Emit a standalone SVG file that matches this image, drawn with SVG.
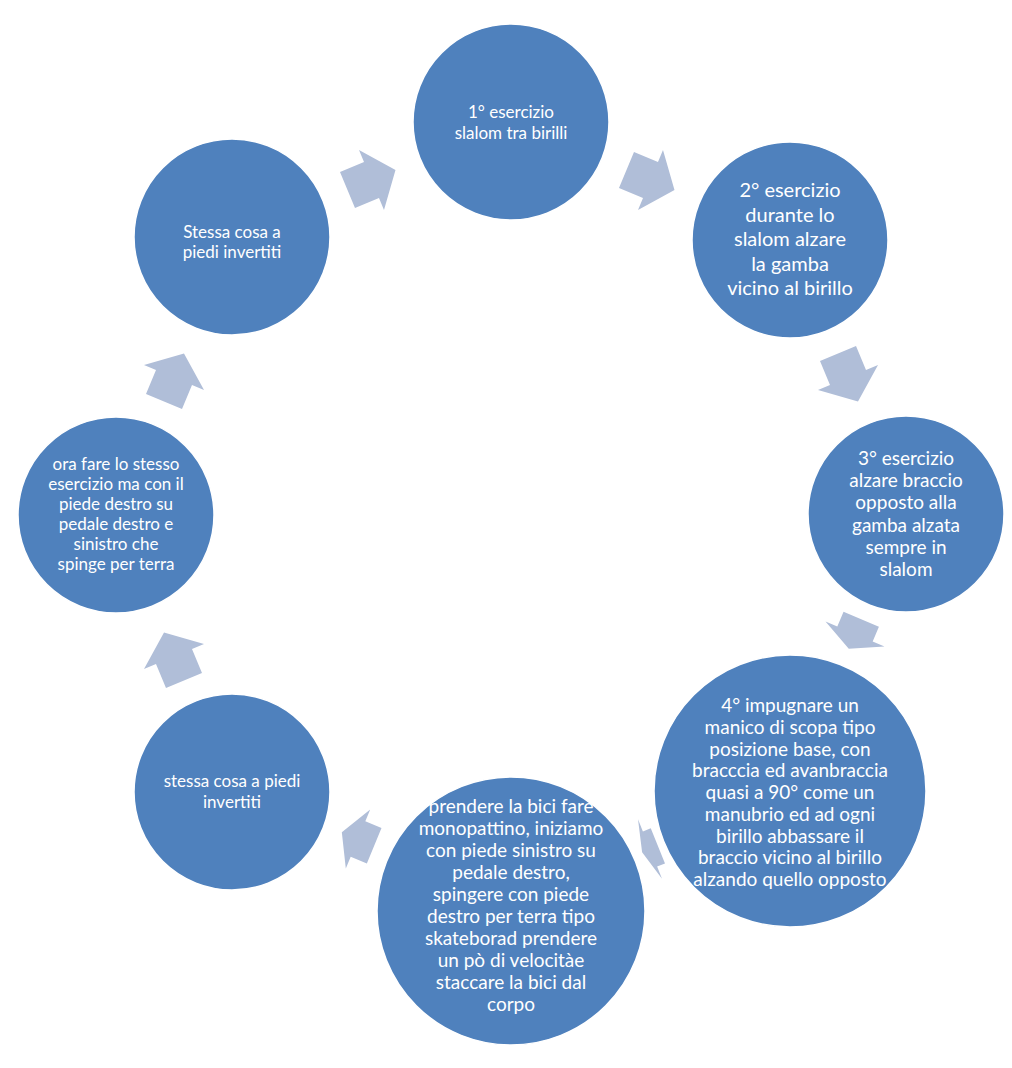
<svg xmlns="http://www.w3.org/2000/svg" width="1012" height="1068" viewBox="0 0 1012 1068">
<style>
.node{fill:#4F81BD;stroke:#ffffff;stroke-width:1.5}
.arrow{fill:#B0BED8}
text{font-family:Lato,"Liberation Sans",sans-serif;fill:#ffffff;text-anchor:middle}
.s{font-size:17px}
.b{font-size:19px}
.c{font-size:20px}
</style>
<defs>
<path id="arr" d="M-26,-19.5 L0,-19.5 L0,-32.5 L26,0 L0,32.5 L0,19.5 L-26,19.5 Z"/>
</defs>
<rect width="1012" height="1068" fill="#ffffff"/>
<g id="connectors">
<use href="#arr" class="arrow" transform="translate(650.5,180) rotate(22.6)"/>
<use href="#arr" class="arrow" transform="translate(848,377.5) rotate(67.4)"/>
<path class="arrow" transform="translate(855,634) rotate(112.9)" d="M-16,-19.2 L0,-19.2 L0,-32 L16,0 L0,32 L0,19.2 L-16,19.2 Z"/>
<path class="arrow" transform="translate(650,849) rotate(158)" d="M-8.5,-19 L0,-19 L0,-32 L8.5,0 L0,32 L0,19 L-8.5,19 Z"/>
<path class="arrow" transform="translate(358,839) rotate(202.4)" d="M-17.5,-19.2 L0,-19.2 L0,-32 L17.5,0 L0,32 L0,19.2 L-17.5,19.2 Z"/>
<use href="#arr" class="arrow" transform="translate(174,656.5) rotate(247.4)"/>
<use href="#arr" class="arrow" transform="translate(174,377.5) rotate(292.6)"/>
<use href="#arr" class="arrow" transform="translate(371.5,180) rotate(337.4)"/>
</g>
<g id="n1">
<circle class="node" cx="511" cy="122" r="98"/>
<text class="s"><tspan x="511" y="118">1° esercizio</tspan><tspan x="511" y="139">slalom tra birilli</tspan></text>
</g>
<g id="n2">
<circle class="node" cx="790" cy="240" r="98"/>
<text class="c"><tspan x="790" y="197">2° esercizio</tspan><tspan x="790" y="221.5">durante lo</tspan><tspan x="790" y="246">slalom alzare</tspan><tspan x="790" y="270.5">la gamba</tspan><tspan x="790" y="295">vicino al birillo</tspan></text>
</g>
<g id="n3">
<circle class="node" cx="906" cy="514" r="98"/>
<text class="b"><tspan x="906" y="465">3° esercizio</tspan><tspan x="906" y="487">alzare braccio</tspan><tspan x="906" y="509">opposto alla</tspan><tspan x="906" y="532">gamba alzata</tspan><tspan x="906" y="554">sempre in</tspan><tspan x="906" y="576">slalom</tspan></text>
</g>
<g id="n4">
<circle class="node" cx="790" cy="791" r="136"/>
<text class="b"><tspan x="790" y="712">4° impugnare un</tspan><tspan x="790" y="734">manico di scopa tipo</tspan><tspan x="790" y="756">posizione base, con</tspan><tspan x="790" y="777">bracccia ed avanbraccia</tspan><tspan x="790" y="799">quasi a 90° come un</tspan><tspan x="790" y="821">manubrio ed ad ogni</tspan><tspan x="790" y="843">birillo abbassare il</tspan><tspan x="790" y="864">braccio vicino al birillo</tspan><tspan x="790" y="886">alzando quello opposto</tspan></text>
</g>
<g id="n5">
<circle class="node" cx="511" cy="911" r="134"/>
<text class="b"><tspan x="511" y="813">prendere la bici fare</tspan><tspan x="511" y="835">monopattino, iniziamo</tspan><tspan x="511" y="857">con piede sinistro su</tspan><tspan x="511" y="879">pedale destro,</tspan><tspan x="511" y="901">spingere con piede</tspan><tspan x="511" y="923">destro per terra tipo</tspan><tspan x="511" y="945">skateborad prendere</tspan><tspan x="511" y="967">un pò di velocitàe</tspan><tspan x="511" y="989">staccare la bici dal</tspan><tspan x="511" y="1011">corpo</tspan></text>
</g>
<g id="n6">
<circle class="node" cx="232" cy="792" r="98"/>
<text class="s"><tspan x="232" y="787">stessa cosa a piedi</tspan><tspan x="232" y="808">invertiti</tspan></text>
</g>
<g id="n7">
<circle class="node" cx="116" cy="515" r="98"/>
<text class="s"><tspan x="116" y="470">ora fare lo stesso</tspan><tspan x="116" y="490">esercizio ma con il</tspan><tspan x="116" y="510">piede destro su</tspan><tspan x="116" y="530">pedale destro e</tspan><tspan x="116" y="550">sinistro che</tspan><tspan x="116" y="570">spinge per terra</tspan></text>
</g>
<g id="n8">
<circle class="node" cx="232" cy="237" r="98"/>
<text class="s"><tspan x="232" y="238">Stessa cosa a</tspan><tspan x="232" y="258">piedi invertiti</tspan></text>
</g>
</svg>
